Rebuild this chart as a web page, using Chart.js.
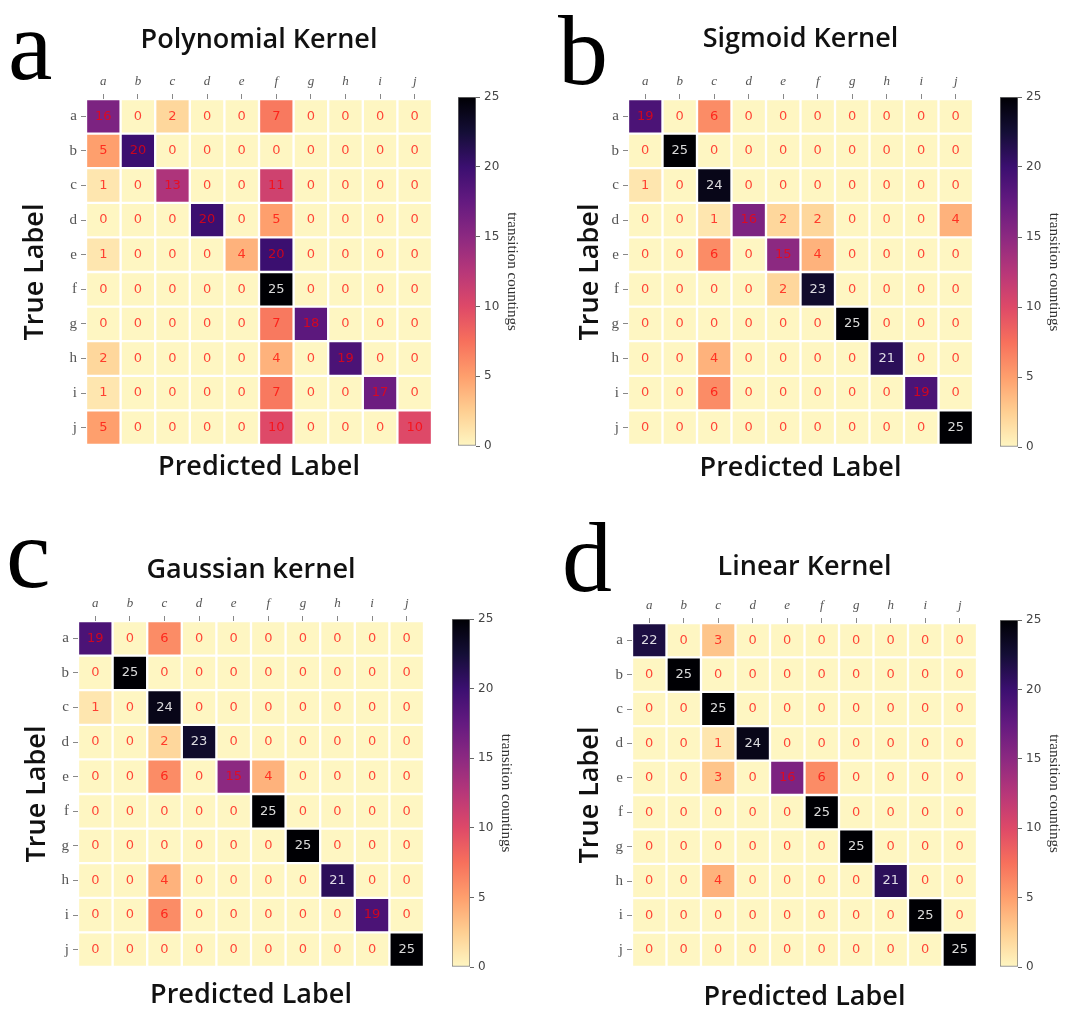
<!DOCTYPE html>
<html>
<head>
<meta charset="utf-8">
<script src="https://cdn.jsdelivr.net/npm/chart.js@4.4.1/dist/chart.umd.min.js"></script>
<style>
  html, body { margin: 0; padding: 0; background: #fff; overflow: hidden; }
  body { width: 1068px; height: 1015px; position: relative; }
  canvas { position: absolute; }
  .letter { position: absolute; font-family: 'Liberation Serif', 'DejaVu Serif', serif; font-size: 100px; line-height: 100px; color: #000; }
</style>
</head>
<body>
<div class="letter" style="left:8px;top:-4px">a</div>
<div class="letter" style="left:558px;top:1px">b</div>
<div class="letter" style="left:6px;top:504px">c</div>
<div class="letter" style="left:562px;top:508px">d</div>

<canvas id="hmA"></canvas><canvas id="cbA"></canvas>
<canvas id="hmB"></canvas><canvas id="cbB"></canvas>
<canvas id="hmC"></canvas><canvas id="cbC"></canvas>
<canvas id="hmD"></canvas><canvas id="cbD"></canvas>

<script>
// подписи осей
const predictedLabels = ['a', 'b', 'c', 'd', 'e', 'f', 'g', 'h', 'i', 'j'];
const trueLabels = ['a', 'b', 'c', 'd', 'e', 'f', 'g', 'h', 'i', 'j'];
const countRange = [0, 25];
const panelTitles = ['Polynomial Kernel', 'Sigmoid Kernel', 'Gaussian kernel', 'Linear Kernel'];

// матрицы ошибок (строки - true label, столбцы - predicted)
const polynomialKernel = [
  [16, 0, 2, 0, 0, 7, 0, 0, 0, 0],
  [5, 20, 0, 0, 0, 0, 0, 0, 0, 0],
  [1, 0, 13, 0, 0, 11, 0, 0, 0, 0],
  [0, 0, 0, 20, 0, 5, 0, 0, 0, 0],
  [1, 0, 0, 0, 4, 20, 0, 0, 0, 0],
  [0, 0, 0, 0, 0, 25, 0, 0, 0, 0],
  [0, 0, 0, 0, 0, 7, 18, 0, 0, 0],
  [2, 0, 0, 0, 0, 4, 0, 19, 0, 0],
  [1, 0, 0, 0, 0, 7, 0, 0, 17, 0],
  [5, 0, 0, 0, 0, 10, 0, 0, 0, 10]
];
const sigmoidKernel = [
  [19, 0, 6, 0, 0, 0, 0, 0, 0, 0],
  [0, 25, 0, 0, 0, 0, 0, 0, 0, 0],
  [1, 0, 24, 0, 0, 0, 0, 0, 0, 0],
  [0, 0, 1, 16, 2, 2, 0, 0, 0, 4],
  [0, 0, 6, 0, 15, 4, 0, 0, 0, 0],
  [0, 0, 0, 0, 2, 23, 0, 0, 0, 0],
  [0, 0, 0, 0, 0, 0, 25, 0, 0, 0],
  [0, 0, 4, 0, 0, 0, 0, 21, 0, 0],
  [0, 0, 6, 0, 0, 0, 0, 0, 19, 0],
  [0, 0, 0, 0, 0, 0, 0, 0, 0, 25]
];
const gaussianKernel = [
  [19, 0, 6, 0, 0, 0, 0, 0, 0, 0],
  [0, 25, 0, 0, 0, 0, 0, 0, 0, 0],
  [1, 0, 24, 0, 0, 0, 0, 0, 0, 0],
  [0, 0, 2, 23, 0, 0, 0, 0, 0, 0],
  [0, 0, 6, 0, 15, 4, 0, 0, 0, 0],
  [0, 0, 0, 0, 0, 25, 0, 0, 0, 0],
  [0, 0, 0, 0, 0, 0, 25, 0, 0, 0],
  [0, 0, 4, 0, 0, 0, 0, 21, 0, 0],
  [0, 0, 6, 0, 0, 0, 0, 0, 19, 0],
  [0, 0, 0, 0, 0, 0, 0, 0, 0, 25]
];
const linearKernel = [
  [22, 0, 3, 0, 0, 0, 0, 0, 0, 0],
  [0, 25, 0, 0, 0, 0, 0, 0, 0, 0],
  [0, 0, 25, 0, 0, 0, 0, 0, 0, 0],
  [0, 0, 1, 24, 0, 0, 0, 0, 0, 0],
  [0, 0, 3, 0, 16, 6, 0, 0, 0, 0],
  [0, 0, 0, 0, 0, 25, 0, 0, 0, 0],
  [0, 0, 0, 0, 0, 0, 25, 0, 0, 0],
  [0, 0, 4, 0, 0, 0, 0, 21, 0, 0],
  [0, 0, 0, 0, 0, 0, 0, 0, 25, 0],
  [0, 0, 0, 0, 0, 0, 0, 0, 0, 25]
];

// палитра magma
const magmaStops = [
  [0.0, [0, 0, 4]], [0.1, [20, 14, 54]], [0.2, [59, 15, 112]], [0.3, [100, 26, 128]],
  [0.4, [140, 41, 129]], [0.5, [183, 55, 121]], [0.6, [222, 73, 104]], [0.7, [247, 112, 92]],
  [0.8, [254, 159, 109]], [0.9, [254, 207, 146]], [1.0, [254, 246, 194]]
];

function magma(t) {
  t = Math.max(0, Math.min(1, t));
  for (let i = 1; i < magmaStops.length; i++) {
    const [t1, c1] = magmaStops[i];
    const [t0, c0] = magmaStops[i - 1];
    if (t <= t1) {
      const k = (t - t0) / (t1 - t0);
      const c = c0.map((v, j) => Math.round(v + (c1[j] - v) * k));
      return `rgb(${c[0]},${c[1]},${c[2]})`;
    }
  }
  return 'rgb(254,246,194)';
}

// цвет ячейки: magma_r
function countColor(v) {
  return magma(1 - (v - countRange[0]) / (countRange[1] - countRange[0]));
}

// положение панелей на странице
const panels = [
  { id: 'A', matrix: polynomialKernel, left: 0,   grid: { l: 86,  t: 99,  r: 432, b: 445 }, cb: { l: 458,  r: 476,  t: 97,  b: 446 }, titleGap: 59, predGap: 22, trueX: 35 },
  { id: 'B', matrix: sigmoidKernel,    left: 540, grid: { l: 628, t: 99,  r: 973, b: 445 }, cb: { l: 1000, r: 1018, t: 97,  b: 447 }, titleGap: 60, predGap: 23, trueX: 590 },
  { id: 'C', matrix: gaussianKernel,   left: 0,   grid: { l: 78,  t: 621, r: 424, b: 967 }, cb: { l: 452,  r: 470,  t: 619, b: 967 }, titleGap: 51, predGap: 28, trueX: 37 },
  { id: 'D', matrix: linearKernel,     left: 540, grid: { l: 632, t: 623, r: 977, b: 967 }, cb: { l: 1000, r: 1018, t: 620, b: 967 }, titleGap: 56, predGap: 30, trueX: 590 }
];

const labelFont = { family: "'Open Sans', 'Noto Sans', sans-serif", weight: '600', size: 27, lineHeight: '30px' };

// подписи значений в ячейках
const cellValuePlugin = {
  id: 'cellValues',
  afterDatasetsDraw(chart) {
    const ctx = chart.ctx;
    ctx.save();
    ctx.font = "13px 'DejaVu Sans', sans-serif";
    ctx.textAlign = 'center';
    ctx.textBaseline = 'middle';
    chart.data.datasets.forEach((ds, r) => {
      chart.getDatasetMeta(r).data.forEach((bar, c) => {
        const v = ds.counts[c];
        ctx.fillStyle = v > 20 ? 'rgba(255,255,255,0.85)' : 'rgba(255,0,0,0.72)';
        ctx.fillText(String(v), bar.x, (bar.y + bar.base) / 2);
      });
    });
    ctx.restore();
  }
};

function makeHeatmap(p, title) {
  const canvas = document.getElementById('hm' + p.id);
  const top = p.grid.t - 99;
  const yW = p.grid.l - p.left;
  const gridW = p.grid.r - p.grid.l;
  const gridH = p.grid.b - p.grid.t;
  const tt = 99 - p.titleGap - 15;
  const tb = 99 - tt - 30 - 30;
  const pt = p.predGap - 15;
  canvas.width = yW + gridW + 10;
  canvas.height = 99 + gridH + pt + 30 + 8;
  canvas.style.left = p.left + 'px';
  canvas.style.top = top + 'px';

  return new Chart(canvas, {
    type: 'bar',
    data: {
      labels: predictedLabels,
      datasets: p.matrix.map((row, r) => ({
        label: trueLabels[r],
        counts: row,
        data: row.map(() => [r, r + 1]),
        backgroundColor: row.map(countColor),
        borderColor: '#ffffff',
        borderWidth: 1.5,
        borderSkipped: false,
        grouped: false,
        barPercentage: 1,
        categoryPercentage: 1
      }))
    },
    options: {
      responsive: false,
      animation: false,
      layout: { padding: { left: 0, right: 10, top: 0, bottom: 0 } },
      plugins: {
        legend: { display: false },
        tooltip: { enabled: false },
        title: {
          display: true, text: title, fullSize: false, color: '#111',
          font: labelFont, padding: { top: tt, bottom: tb }
        },
        subtitle: {
          display: true, position: 'bottom', text: 'Predicted Label', fullSize: false, color: '#111',
          font: labelFont, padding: { top: pt, bottom: 8 }
        }
      },
      scales: {
        x: {
          type: 'category',
          position: 'top',
          offset: true,
          grid: { drawOnChartArea: false, drawTicks: true, tickLength: 5, offset: false, color: '#888' },
          border: { display: false },
          ticks: {
            color: '#555', maxRotation: 0, padding: 5,
            font: { family: "'Liberation Serif', serif", style: 'italic', size: 13 }
          },
          afterFit: s => { s.height = 30; }
        },
        y: {
          type: 'linear',
          position: 'left',
          min: 0,
          max: trueLabels.length,
          reverse: true,
          afterBuildTicks: s => { s.ticks = trueLabels.map((_, i) => ({ value: i + 0.5 })); },
          grid: { drawOnChartArea: false, drawTicks: true, tickLength: 5, color: '#888' },
          border: { display: false },
          ticks: {
            autoSkip: false, color: '#555', padding: 4,
            font: { family: "'Liberation Serif', serif", size: 15 },
            callback: v => trueLabels[Math.floor(v)]
          },
          title: {
            display: true, text: 'True Label', color: '#111',
            font: labelFont, padding: { top: p.trueX - p.left - 15, bottom: 0 }
          },
          afterFit: s => { s.width = yW; }
        }
      }
    },
    plugins: [cellValuePlugin]
  });
}

function makeColorbar(p) {
  const canvas = document.getElementById('cb' + p.id);
  const axisW = 50;
  canvas.width = (p.cb.r - p.cb.l) + axisW;
  canvas.height = (p.cb.b - p.cb.t) + 24;
  canvas.style.left = p.cb.l + 'px';
  canvas.style.top = (p.cb.t - 12) + 'px';

  return new Chart(canvas, {
    type: 'bar',
    data: {
      labels: ['counts'],
      datasets: [{
        data: [countRange],
        backgroundColor: (context) => {
          const area = context.chart.chartArea;
          if (!area) return '#fff';
          const g = context.chart.ctx.createLinearGradient(0, area.bottom, 0, area.top);
          magmaStops.forEach(([t, c]) => g.addColorStop(1 - t, `rgb(${c[0]},${c[1]},${c[2]})`));
          return g;
        },
        borderColor: '#777',
        borderWidth: 1,
        borderSkipped: false,
        barPercentage: 1,
        categoryPercentage: 1
      }]
    },
    options: {
      responsive: false,
      animation: false,
      layout: { padding: { top: 12, bottom: 12, left: 0, right: 0 } },
      plugins: { legend: { display: false }, tooltip: { enabled: false } },
      scales: {
        x: { display: false },
        y: {
          position: 'right',
          min: countRange[0],
          max: countRange[1],
          grid: { drawOnChartArea: false, drawTicks: true, tickLength: 4, color: '#666' },
          border: { display: false },
          ticks: {
            stepSize: 5, color: '#444', padding: 4,
            font: { family: "'DejaVu Sans', sans-serif", size: 12 }
          },
          title: {
            display: true, text: 'transition countings', color: '#333',
            font: { family: "'Liberation Serif', serif", size: 15, lineHeight: '18px' },
            padding: { top: 5, bottom: 0 }
          },
          afterFit: s => { s.width = axisW; }
        }
      }
    }
  });
}

panels.forEach((p, i) => {
  makeHeatmap(p, panelTitles[i]);
  makeColorbar(p);
});
</script>
</body>
</html>
